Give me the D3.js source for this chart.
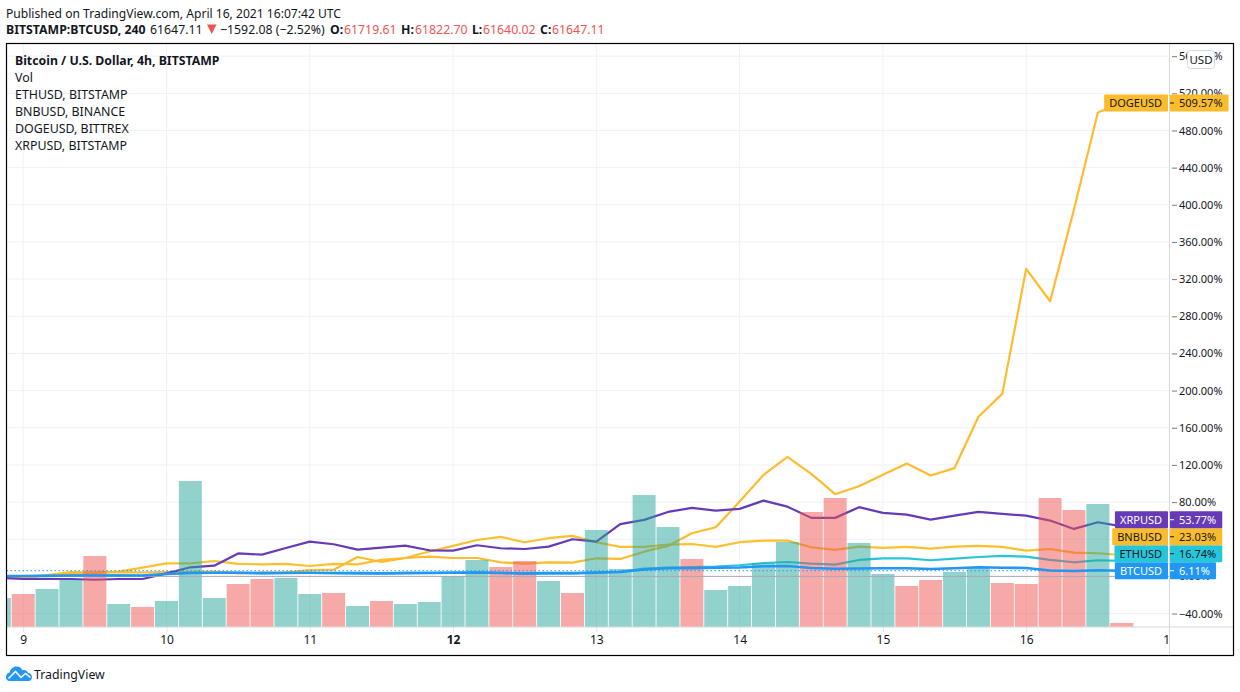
<!DOCTYPE html>
<html>
<head>
<meta charset="utf-8">
<script src="https://d3js.org/d3.v7.min.js"></script>
<style>
  body { margin: 0; background: #fff; }
  text { font-family: "Noto Sans", sans-serif; font-size: 12.3px; fill: #131722; }
</style>
</head>
<body>
<svg id="chart" width="1240" height="692"></svg>
<script>
// values, one entry per 4h bar (first bar is the one cut by the left edge)
const btc = [0.4,0.4,0.6,1.0,0.9,0.9,0.9,2.6,3.7,3.9,3.9,3.5,3.7,3.9,3.7,3.5,3.3,3.5,3.7,4.0,4.2,3.7,3.3,3.5,3.5,3.9,4.7,7.4,8.7,8.7,9.3,9.6,10.9,11.2,9.1,8.3,8.5,8.8,8.8,8.0,8.8,9.8,9.3,9.1,6.3,5.8,6.7,6.11];
const eth = [0.4,0.1,0.8,1.2,1.0,1.0,0.6,2.6,4.2,4.4,3.9,3.4,3.7,3.7,3.4,3.1,3.1,3.7,3.7,4.0,4.0,3.7,2.9,3.3,3.3,4.4,5.0,8.4,9.6,9.9,10.6,12.0,14.4,15.5,13.7,12.6,17.7,19.5,19.5,17.4,19.1,20.9,22.0,21.2,17.7,15.2,17.4,16.74];
const bnb = [-0.6,-2.0,1.5,4.7,4.4,5.1,9.4,14.1,14.1,16.6,13.4,13.0,13.4,11.2,13.4,13.0,17.7,19.8,26.8,32.8,39.2,42.5,36.8,41.1,43.6,36.8,31.7,31.7,34.2,34.9,31.7,36.8,38.5,38.5,31.4,28.5,32.0,30.6,31.7,29.9,32.0,32.8,31.7,27.7,29.5,25.6,24.9,23.03];
const doge = [0.4,-1.7,1.0,3.1,3.7,4.7,4.2,4.7,4.7,5.1,3.3,4.0,4.4,6.9,7.2,20.9,15.5,19.8,21.2,19.8,19.8,15.2,13.7,15.2,14.8,19.5,18.8,26.6,32.8,46.5,52.9,80.5,109.3,128.7,110.4,88.5,97.1,109.3,121.5,108.6,116.6,171.9,196.7,331.1,296.2,395.0,499.3,509.57];
const xrp = [-1.4,-2.8,-2.8,-2.8,-3.6,-2.8,-2.8,3.3,9.8,11.5,24.7,23.4,30.6,37.4,34.6,28.8,30.9,33.1,28.1,27.7,33.5,30.3,29.5,32.0,40.0,37.4,56.2,60.8,69.4,73.7,70.8,72.7,81.6,75.1,63.0,63.0,74.5,68.4,66.5,61.1,65.4,69.4,67.3,65.4,60.1,51.1,58.3,53.77];
const volume = [29,33,38,47,71,23,20,26,146,29,43,48,49,33,34,21,26,23,25,51,67,60,66,46,34,97,58,132,100,68,37,41,64,85,115,129,84,53,41,47,55,59,44,43,129,117,123,4];
const barUp = [1,0,1,1,0,1,0,1,1,1,0,0,1,1,0,1,0,1,1,1,1,0,0,1,0,1,1,1,1,0,1,1,1,1,0,0,1,1,0,0,1,1,0,0,0,0,1,0];
const dayLabels = ['9','10','11','12','13','14','15','16','17'];
const gridTicks = [-40,0,40,80,120,160,200,240,280,320,360,400,440,480,520,560];
// 40.00% sits fully behind the value tags in the original, so it gets a gridline but no label
const labelTicks = gridTicks.filter(d => d !== 40);
const legendLines = ['Vol','ETHUSD, BITSTAMP','BNBUSD, BINANCE','DOGEUSD, BITTREX','XRPUSD, BITSTAMP'];

const paneLeft = 6.5, paneRight = 1169.5, paneTop = 43.5, paneBottom = 627, frameRight = 1233.5, frameBottom = 655.5;

const svg = d3.select('#chart');
const defs = svg.append('defs');
defs.append('clipPath').attr('id', 'pane').append('rect')
  .attr('x', paneLeft).attr('y', paneTop).attr('width', paneRight - paneLeft).attr('height', paneBottom - paneTop);
defs.append('clipPath').attr('id', 'timeAxis').append('rect')
  .attr('x', paneLeft).attr('y', paneBottom).attr('width', paneRight - paneLeft).attr('height', frameBottom - paneBottom);
defs.append('clipPath').attr('id', 'priceAxis').append('rect')
  .attr('x', paneRight).attr('y', paneTop).attr('width', frameRight - paneRight).attr('height', frameBottom - paneTop);

// bar index runs from -1 (cut off) to 46, six bars per day, 0 = midnight of the 9th
const x = d3.scaleLinear().domain([0, 48]).range([23.2, 1169.5]);
const y = d3.scaleLinear().domain([-40, 560]).range([613.56, 56.16]);
const yVol = d3.scaleLinear().domain([0, d3.max(volume)]).range([paneBottom, 481]);
const barX = (d, i) => x(i - 1);

// grid
const grid = svg.append('g').attr('clip-path', 'url(#pane)');
grid.selectAll('.h').data(gridTicks).join('line')
  .attr('x1', paneLeft).attr('x2', paneRight)
  .attr('y1', d => y(d)).attr('y2', d => y(d))
  .attr('stroke', '#eff1f6');
grid.selectAll('.v').data(dayLabels).join('line')
  .attr('x1', (d, i) => x(i * 6)).attr('x2', (d, i) => x(i * 6))
  .attr('y1', paneTop).attr('y2', paneBottom)
  .attr('stroke', '#eff1f6');

// comparison lines sit under the volume bars, BTC goes on top
const line = d3.line().x(barX).y(d => y(d));
const plot = svg.append('g').attr('clip-path', 'url(#pane)');
const lowerLines = [[eth, '#26c6da'], [bnb, '#fbc02d'], [doge, '#fdbb2d'], [xrp, '#673ab7']];
lowerLines.forEach(([values, color]) => {
  plot.append('path').attr('d', line(values)).attr('fill', 'none')
    .attr('stroke', color).attr('stroke-width', 2.2).attr('stroke-linejoin', 'round');
});

plot.selectAll('.bar').data(volume).join('rect')
  .attr('x', (d, i) => x(i - 1) - 11.5)
  .attr('width', 23)
  .attr('y', d => yVol(d))
  .attr('height', d => paneBottom - yVol(d))
  .attr('fill', (d, i) => barUp[i] ? '#26a69a' : '#ef5350')
  .attr('fill-opacity', 0.5);

// zero line and last price line
plot.append('line').attr('x1', paneLeft).attr('x2', paneRight)
  .attr('y1', y(0)).attr('y2', y(0)).attr('stroke', '#a9a9b8').attr('stroke-width', 1);
plot.append('path').attr('d', line(btc)).attr('fill', 'none')
  .attr('stroke', '#2196f3').attr('stroke-width', 2.6);
plot.append('line').attr('x1', paneLeft).attr('x2', paneRight)
  .attr('y1', y(6.11)).attr('y2', y(6.11))
  .attr('stroke', '#2196f3').attr('stroke-dasharray', '1.5 2.5');

// axes
const yAxis = d3.axisRight(y).tickValues(labelTicks).tickSize(0).tickPadding(0)
  .tickFormat(d => (d < 0 ? '\u2212' : '') + Math.abs(d).toFixed(2) + '%');
const yAxisG = svg.append('g').attr('clip-path', 'url(#priceAxis)')
  .append('g').attr('transform', 'translate(1179,0)').call(yAxis);
yAxisG.select('.domain').remove();
yAxisG.selectAll('.tick text').attr('fill', null).style('font-size', '11px');
yAxisG.selectAll('.tick').append('line').attr('x1', -7).attr('x2', -2).attr('stroke', '#787b86');

const xAxis = d3.axisBottom(x).tickValues(dayLabels.map((d, i) => i * 6))
  .tickSize(0).tickPadding(5).tickFormat((d, i) => dayLabels[i]);
const xAxisG = svg.append('g').attr('clip-path', 'url(#timeAxis)')
  .append('g').attr('transform', `translate(0,${paneBottom})`).call(xAxis);
xAxisG.select('.domain').remove();
xAxisG.selectAll('.tick text').attr('fill', null).attr('y', 8)
  .style('font-size', '12px')
  .style('font-weight', (d, i) => dayLabels[i] === '12' ? 'bold' : null);
xAxisG.selectAll('.tick').append('line').attr('y1', 0).attr('y2', 5).attr('stroke', '#e0e3eb');

// pane border lines
svg.append('line').attr('x1', paneLeft).attr('x2', frameRight).attr('y1', paneBottom).attr('y2', paneBottom).attr('stroke', '#d9d9d9');
svg.append('line').attr('x1', paneRight).attr('x2', paneRight).attr('y1', paneTop).attr('y2', frameBottom).attr('stroke', '#d9d9d9');
svg.append('rect').attr('x', paneLeft).attr('y', paneTop)
  .attr('width', frameRight - paneLeft).attr('height', frameBottom - paneTop)
  .attr('fill', 'none').attr('stroke', '#000').attr('stroke-width', 1.2);

// USD button
const usd = svg.append('g');
usd.append('rect').attr('x', 1187.5).attr('y', 50.5).attr('width', 27).attr('height', 18).attr('rx', 3)
  .attr('fill', '#fff').attr('stroke', '#d6d8e0');
usd.append('text').attr('x', 1201).attr('y', 63.5).attr('text-anchor', 'middle')
  .style('font-size', '11.5px').text('USD');

// last value tags, pushed upward when they would overlap the one below
const tags = [
  { name: 'BTCUSD', value: 6.11, color: '#2196f3', ink: '#fff' },
  { name: 'ETHUSD', value: 16.74, color: '#26c6da', ink: '#131722' },
  { name: 'BNBUSD', value: 23.03, color: '#fbbc2c', ink: '#131722' },
  { name: 'XRPUSD', value: 53.77, color: '#673ab7', ink: '#fff' },
  { name: 'DOGEUSD', value: 509.57, color: '#fbbc2c', ink: '#131722' }
];
let prevY = Infinity;
tags.forEach(t => {
  const cy = Math.min(y(t.value), prevY - 17);
  prevY = cy;
  const g = svg.append('g').attr('transform', `translate(0,${cy})`);
  const leftRect = g.append('rect').attr('y', -8.5).attr('height', 17).attr('rx', 1).attr('fill', t.color);
  const rightRect = g.append('rect').attr('x', 1170).attr('y', -8.5).attr('height', 17).attr('rx', 1).attr('fill', t.color);
  const nameText = g.append('text').attr('x', 1162).attr('y', 4).attr('text-anchor', 'end')
    .style('font-size', '11px').style('fill', t.ink).text(t.name);
  const valText = g.append('text').attr('x', 1179).attr('y', 4)
    .style('font-size', '11px').style('fill', t.ink).text(t.value.toFixed(2) + '%');
  const nameW = nameText.node().getComputedTextLength();
  const valW = valText.node().getComputedTextLength();
  leftRect.attr('x', 1162 - nameW - 5).attr('width', nameW + 5 + 6);
  rightRect.attr('width', 1179 + valW + 6 - 1170);
  g.append('line').attr('x1', 1170).attr('x2', 1174).attr('stroke', t.ink);
});

// header
svg.append('text').attr('x', 6).attr('y', 18).style('font-size', '12.1px')
  .text('Published on TradingView.com, April 16, 2021 16:07:42 UTC');

const red = '#ef5350';
const pieces = [
  ['BITSTAMP:BTCUSD, 240', 6, true, null], ['61647.11', 150, false, null],
  ['\u22121592.08 (\u22122.52%)', 220, false, null], ['O:', 330, true, null], ['61719.61', 344, false, red],
  ['H:', 401, true, null], ['61822.70', 415, false, red], ['L:', 472, true, null], ['61640.02', 483, false, red],
  ['C:', 540, true, null], ['61647.11', 552, false, red]
];
svg.selectAll('.head').data(pieces).join('text')
  .attr('x', d => d[1]).attr('y', 34)
  .style('font-weight', d => d[2] ? 'bold' : null)
  .style('fill', d => d[3])
  .text(d => d[0]);
svg.append('path').attr('d', 'M207 24.5 H216.5 L211.75 34 Z').attr('fill', red);

// legend
svg.append('text').attr('x', 15).attr('y', 65).style('font-weight', 'bold').text('Bitcoin / U.S. Dollar, 4h, BITSTAMP');
svg.selectAll('.legend').data(legendLines).join('text')
  .attr('x', 15).attr('y', (d, i) => 82 + i * 17).style('font-size', '12.4px').text(d => d);

// logo
const logo = svg.append('g').attr('transform', 'translate(6,665)');
logo.append('path').attr('fill', '#2196f3')
  .attr('d', 'M0 12 C0 9.5 1.5 8 3.5 7.5 C4.5 4 7 1.5 10.5 1.5 C13.5 1.5 15.5 3 16.5 5.5 C18.5 4.5 21 5.5 22 8 C24.5 8 26 10 26 12 C26 14.5 24.5 16 22.5 16 L3.5 16 C1.5 16 0 14.5 0 12Z');
logo.append('path').attr('fill', 'none').attr('stroke', '#fff').attr('stroke-width', 1.6)
  .attr('d', 'M2.5 13.5 L9.5 6.5 L15 12.5 L19.5 8.5 L24.5 12.5');
svg.append('text').attr('x', 34).attr('y', 678.5).style('font-size', '12.3px').text('TradingView');
</script>
</body>
</html>
